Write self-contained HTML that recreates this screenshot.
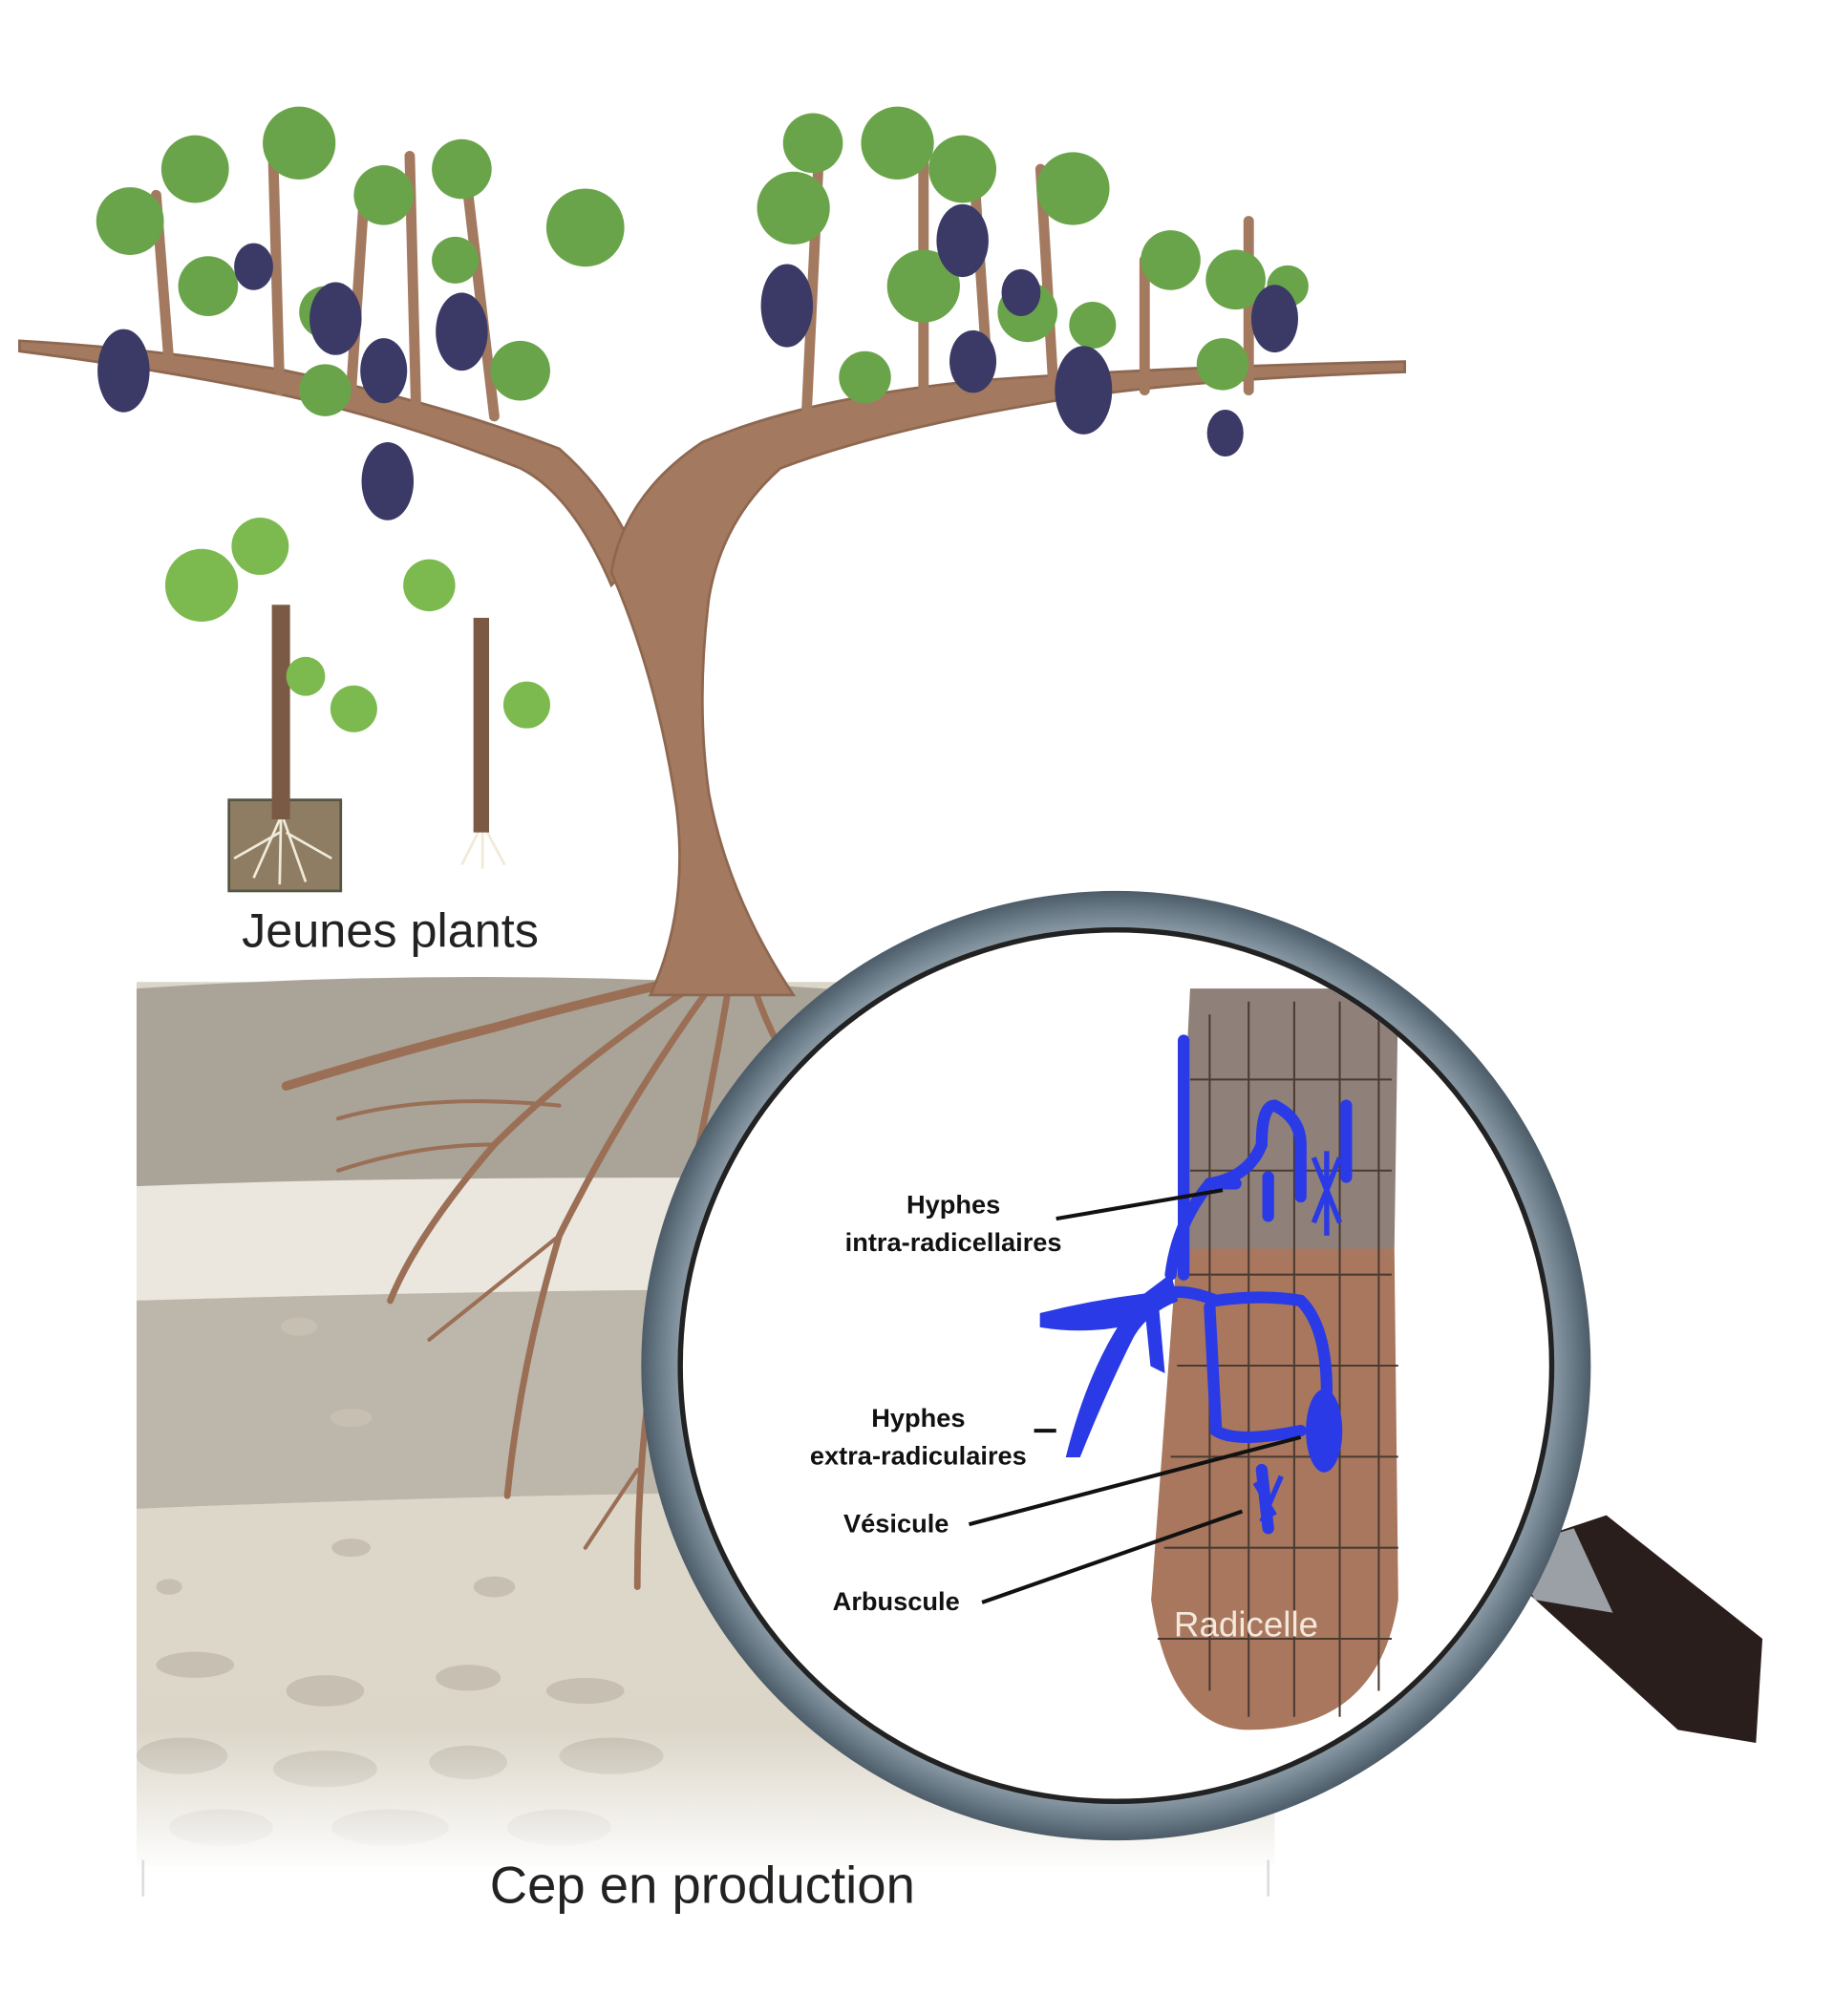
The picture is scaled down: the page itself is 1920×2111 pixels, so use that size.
<!DOCTYPE html>
<html><head><meta charset="utf-8"><style>
html,body{margin:0;padding:0;background:#fff;}
svg{display:block;}
text{font-family:"Liberation Sans",sans-serif;}
</style></head><body>
<svg width="1920" height="2111" viewBox="0 0 1410 1550" preserveAspectRatio="none" xmlns="http://www.w3.org/2000/svg">
<defs>
<linearGradient id="fade" x1="0" y1="0" x2="0" y2="1">
<stop offset="0" stop-color="#fff" stop-opacity="0"/><stop offset="1" stop-color="#fff" stop-opacity="1"/>
</linearGradient>
<radialGradient id="ring" cx="0.5" cy="0.5" r="0.5">
<stop offset="0.9" stop-color="#9aa8b2"/><stop offset="0.96" stop-color="#6b7d8a"/><stop offset="1" stop-color="#4c5c68"/>
</radialGradient>
</defs>
<rect width="1410" height="1550" fill="#fff"/>
<!-- soil -->
<rect x="105" y="755" width="875" height="680" fill="#dcd6c9"/>
<path d="M105 760 Q400 740 700 765 L980 770 L980 910 Q600 900 300 915 L105 912Z" fill="#aaa398"/>
<path d="M105 912 Q400 900 980 910 L980 995 Q600 985 105 1000Z" fill="#ebe7de"/>
<path d="M105 1000 Q600 985 980 995 L980 1150 Q600 1140 105 1160Z" fill="#bdb7ab"/>
<path d="M105 1160 Q600 1140 980 1150 L980 1300 L105 1300Z" fill="#ddd7c9"/>
<g fill="#c6bfb2">
<ellipse cx="230" cy="1020" rx="14" ry="7"/><ellipse cx="270" cy="1090" rx="16" ry="7"/><ellipse cx="270" cy="1190" rx="15" ry="7"/><ellipse cx="130" cy="1220" rx="10" ry="6"/><ellipse cx="380" cy="1220" rx="16" ry="8"/>
<ellipse cx="150" cy="1280" rx="30" ry="10"/><ellipse cx="250" cy="1300" rx="30" ry="12"/><ellipse cx="360" cy="1290" rx="25" ry="10"/><ellipse cx="450" cy="1300" rx="30" ry="10"/>
<ellipse cx="140" cy="1350" rx="35" ry="14"/><ellipse cx="250" cy="1360" rx="40" ry="14"/><ellipse cx="360" cy="1355" rx="30" ry="13"/><ellipse cx="470" cy="1350" rx="40" ry="14"/>
<ellipse cx="170" cy="1405" rx="40" ry="14"/><ellipse cx="300" cy="1405" rx="45" ry="14"/><ellipse cx="430" cy="1405" rx="40" ry="14"/>
</g>
<rect x="100" y="1330" width="885" height="110" fill="url(#fade)"/>
<line x1="110" y1="1430" x2="110" y2="1458" stroke="#ddd" stroke-width="2"/>
<line x1="975" y1="1430" x2="975" y2="1458" stroke="#ddd" stroke-width="2"/>
<!-- roots -->
<g stroke="#9a6f55" fill="none" stroke-linecap="round">
<path d="M540 750 Q450 770 380 790 Q300 810 220 835" stroke-width="7"/>
<path d="M530 760 Q440 820 380 880 Q320 950 300 1000" stroke-width="5"/>
<path d="M545 760 Q480 850 430 950 Q400 1050 390 1150" stroke-width="5"/>
<path d="M560 760 Q540 880 510 1000 Q490 1100 490 1220" stroke-width="5"/>
<path d="M580 760 Q600 820 640 860" stroke-width="5"/>
<path d="M380 880 Q320 880 260 900" stroke-width="3"/>
<path d="M430 950 Q380 990 330 1030" stroke-width="3"/>
<path d="M430 850 Q330 840 260 860" stroke-width="3"/>
<path d="M490 1130 Q470 1160 450 1190" stroke-width="3"/>
</g>
<!-- trunk and branches -->
<g fill="#a37a5f" stroke="#8e6750" stroke-width="2">
<path d="M15 262 Q120 268 220 285 Q340 310 430 345 Q470 380 490 430 L470 450 Q440 380 400 360 Q300 320 200 300 Q110 282 15 270Z"/>
<path d="M470 440 Q480 380 540 340 Q620 305 760 292 Q900 282 1080 278 L1080 286 Q900 292 800 310 Q680 330 600 360 Q555 400 545 460 Q535 540 545 610 Q560 690 610 765 L500 765 Q530 700 520 620 Q505 520 470 440Z"/>
</g>
<g stroke="#a37a5f" stroke-width="8" fill="none" stroke-linecap="round">
<path d="M130 280 L120 150"/><path d="M215 300 L210 120"/><path d="M270 300 L280 150"/><path d="M320 320 L315 120"/><path d="M380 320 L360 150"/>
<path d="M620 320 L630 110"/><path d="M710 300 L710 120"/><path d="M760 300 L750 150"/><path d="M810 300 L800 130"/><path d="M880 300 L880 200"/><path d="M960 300 L960 170"/>
</g>
<!-- leaves -->
<g fill="#6aa44a">
<circle cx="100" cy="170" r="26"/><circle cx="150" cy="130" r="26"/><circle cx="230" cy="110" r="28"/><circle cx="295" cy="150" r="23"/><circle cx="355" cy="130" r="23"/><circle cx="450" cy="175" r="30"/><circle cx="160" cy="220" r="23"/><circle cx="250" cy="240" r="20"/><circle cx="400" cy="285" r="23"/><circle cx="250" cy="300" r="20"/><circle cx="350" cy="200" r="18"/>
<circle cx="610" cy="160" r="28"/><circle cx="625" cy="110" r="23"/><circle cx="690" cy="110" r="28"/><circle cx="740" cy="130" r="26"/><circle cx="825" cy="145" r="28"/><circle cx="900" cy="200" r="23"/><circle cx="950" cy="215" r="23"/><circle cx="710" cy="220" r="28"/><circle cx="665" cy="290" r="20"/><circle cx="790" cy="240" r="23"/><circle cx="840" cy="250" r="18"/><circle cx="990" cy="220" r="16"/><circle cx="940" cy="280" r="20"/>
</g>
<!-- grapes -->
<g fill="#3b3a66">
<ellipse cx="95" cy="285" rx="20" ry="32"/><ellipse cx="195" cy="205" rx="15" ry="18"/><ellipse cx="258" cy="245" rx="20" ry="28"/><ellipse cx="295" cy="285" rx="18" ry="25"/><ellipse cx="355" cy="255" rx="20" ry="30"/><ellipse cx="298" cy="370" rx="20" ry="30"/>
<ellipse cx="605" cy="235" rx="20" ry="32"/><ellipse cx="740" cy="185" rx="20" ry="28"/><ellipse cx="785" cy="225" rx="15" ry="18"/><ellipse cx="748" cy="278" rx="18" ry="24"/><ellipse cx="833" cy="300" rx="22" ry="34"/><ellipse cx="980" cy="245" rx="18" ry="26"/><ellipse cx="942" cy="333" rx="14" ry="18"/>
</g>
<!-- young plants -->
<rect x="176" y="615" width="86" height="70" fill="#8e7c63" stroke="#554" stroke-width="2"/>
<g stroke="#f0ead8" stroke-width="2" fill="none"><path d="M215 630 L195 675 M218 630 L235 678 M215 640 L180 660 M220 640 L255 660 M216 630 L215 680"/><path d="M370 635 L355 665 M372 635 L388 665 M371 635 L371 668"/></g>
<rect x="209" y="465" width="14" height="165" fill="#7a5a45"/>
<rect x="364" y="475" width="12" height="165" fill="#7a5a45"/>
<g fill="#7cba4f"><circle cx="155" cy="450" r="28"/><circle cx="200" cy="420" r="22"/><circle cx="235" cy="520" r="15"/><circle cx="272" cy="545" r="18"/><circle cx="330" cy="450" r="20"/><circle cx="405" cy="542" r="18"/></g>
<text x="300" y="728" font-size="37" text-anchor="middle" fill="#222">Jeunes plants</text>
<text x="540" y="1463" font-size="40" text-anchor="middle" fill="#222">Cep en production</text>
<!-- magnifier handle -->
<path d="M1160 1190 L1235 1165 L1355 1260 L1350 1340 L1290 1330 L1175 1225Z" fill="#2a1e1c"/>
<path d="M1160 1190 L1210 1175 L1240 1240 L1180 1230Z" fill="#9aa0a5"/>
<!-- lens -->
<circle cx="858" cy="1050" r="365" fill="url(#ring)"/>
<circle cx="858" cy="1050" r="335" fill="#fff" stroke="#222" stroke-width="4"/>
<clipPath id="lens"><circle cx="858" cy="1050" r="333"/></clipPath>
<g clip-path="url(#lens)">
<path d="M915 760 L1075 760 L1072 960 L905 960Z" fill="#8f8079"/>
<path d="M905 960 L1072 960 L1075 1230 Q1060 1330 960 1330 Q900 1330 885 1230Z" fill="#a8775e"/>
<g stroke="#4a3a32" stroke-width="1.5" fill="none">
<path d="M930 780 V1300 M960 770 V1320 M995 770 V1320 M1030 770 V1320 M1060 770 V1300"/>
<path d="M915 830 H1070 M915 900 H1070 M910 980 H1070 M905 1050 H1075 M900 1120 H1075 M895 1190 H1075 M890 1260 H1070"/>
</g>
<g fill="#2a3ae6" stroke="#2a3ae6" stroke-linecap="round">
<path d="M800 1010 Q840 1000 880 995 L900 980 L905 1000 Q880 1010 870 1030 Q850 1070 830 1120 L820 1120 Q835 1060 860 1020 Q830 1025 800 1020Z"/>
<path d="M880 1000 L885 1050 L895 1055 L890 1000Z"/>
</g>
<g fill="none" stroke="#2a3ae6" stroke-width="9" stroke-linecap="round">
<path d="M895 995 Q910 990 935 1000 Q970 995 1000 1000 Q1020 1020 1020 1070"/>
<path d="M930 1005 L935 1100 Q950 1110 1000 1100"/>
<path d="M900 980 Q905 940 930 910 Q960 905 970 880 Q970 850 980 850 Q1000 860 1000 880 L1000 920"/>
<path d="M910 800 L910 980"/><path d="M975 905 L975 935"/><path d="M1035 850 L1035 905"/><path d="M930 910 L950 910"/>
<path d="M970 1130 L975 1175"/>
</g>
<ellipse cx="1018" cy="1100" rx="14" ry="32" fill="#2a3ae6"/>
<g stroke="#2a3ae6" stroke-width="4" fill="none"><path d="M1010 890 L1030 940 M1020 885 L1020 950 M1030 890 L1010 940 M965 1140 L980 1165 M985 1135 L970 1170"/></g>
<g stroke="#111" stroke-width="3">
<line x1="812" y1="937" x2="940" y2="915"/>
<line x1="795" y1="1100" x2="812" y2="1100"/>
<line x1="745" y1="1172" x2="1000" y2="1105"/>
<line x1="755" y1="1232" x2="955" y2="1162"/>
</g>
<g font-size="20" font-weight="bold" fill="#111" text-anchor="middle">
<text x="733" y="933">Hyphes</text><text x="733" y="962">intra-radicellaires</text>
<text x="706" y="1097">Hyphes</text><text x="706" y="1126">extra-radiculaires</text>
<text x="689" y="1178">Vésicule</text>
<text x="689" y="1238">Arbuscule</text>
</g>
<text x="958" y="1258" font-size="27" fill="#f4e8dc" text-anchor="middle">Radicelle</text>
</g>
</svg>
</body></html>
